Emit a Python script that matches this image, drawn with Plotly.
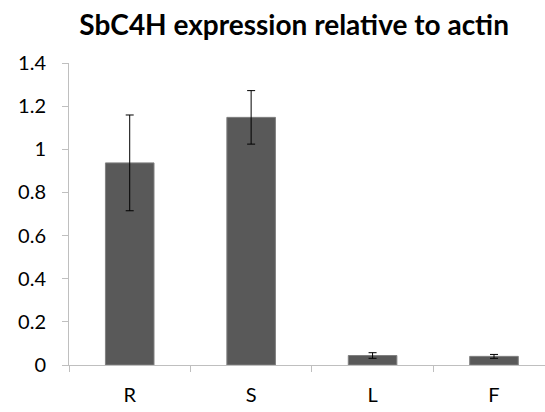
import plotly.graph_objects as go

categories = ["R", "S", "L", "F"]
values = [0.937, 1.148, 0.044, 0.040]
errors = [0.222, 0.124, 0.013, 0.009]
y_ticks = [0, 0.2, 0.4, 0.6, 0.8, 1.0, 1.2, 1.4]
y_tick_labels = ["0", "0.2", "0.4", "0.6", "0.8", "1", "1.2", "1.4"]
title_text = "SbC4H expression relative to actin"

fig = go.Figure(
    go.Bar(
        x=categories,
        y=values,
        width=0.4,
        marker=dict(color="#595959", line=dict(color="#808080", width=1)),
        error_y=dict(type="data", array=errors, visible=True,
                     color="#000000", thickness=1, width=4),
    )
)

fig.update_layout(
    width=545, height=412,
    margin=dict(l=69, r=0, t=63, b=47),
    paper_bgcolor="white", plot_bgcolor="white",
    showlegend=False,
    font=dict(family="Lato, Open Sans, sans-serif", size=20, color="#000000"),
    title=dict(text="<b>" + title_text + "</b>", x=0.473, xanchor="center",
               y=1 - 25 / 412, yanchor="middle", xref="paper",
               font=dict(family="Lato, Open Sans, sans-serif", size=28, color="#000000")),
)

fig.update_xaxes(
    type="category", range=[-0.5, 3.42],
    showline=True, linecolor="#bfbfbf", linewidth=1,
    ticks="outside", tickson="boundaries", ticklen=6, tickcolor="#bfbfbf",
    showgrid=False, zeroline=False, ticklabelstandoff=12,
)
fig.update_yaxes(
    range=[0, 1.4], tickvals=y_ticks, ticktext=y_tick_labels,
    showline=True, linecolor="#bfbfbf", linewidth=1,
    ticks="outside", ticklen=6, tickcolor="#bfbfbf",
    showgrid=False, zeroline=False, ticklabelstandoff=12,
)

fig.write_html("out.html", config={"displayModeBar": False},
               post_script="document.body.style.margin='0';")
